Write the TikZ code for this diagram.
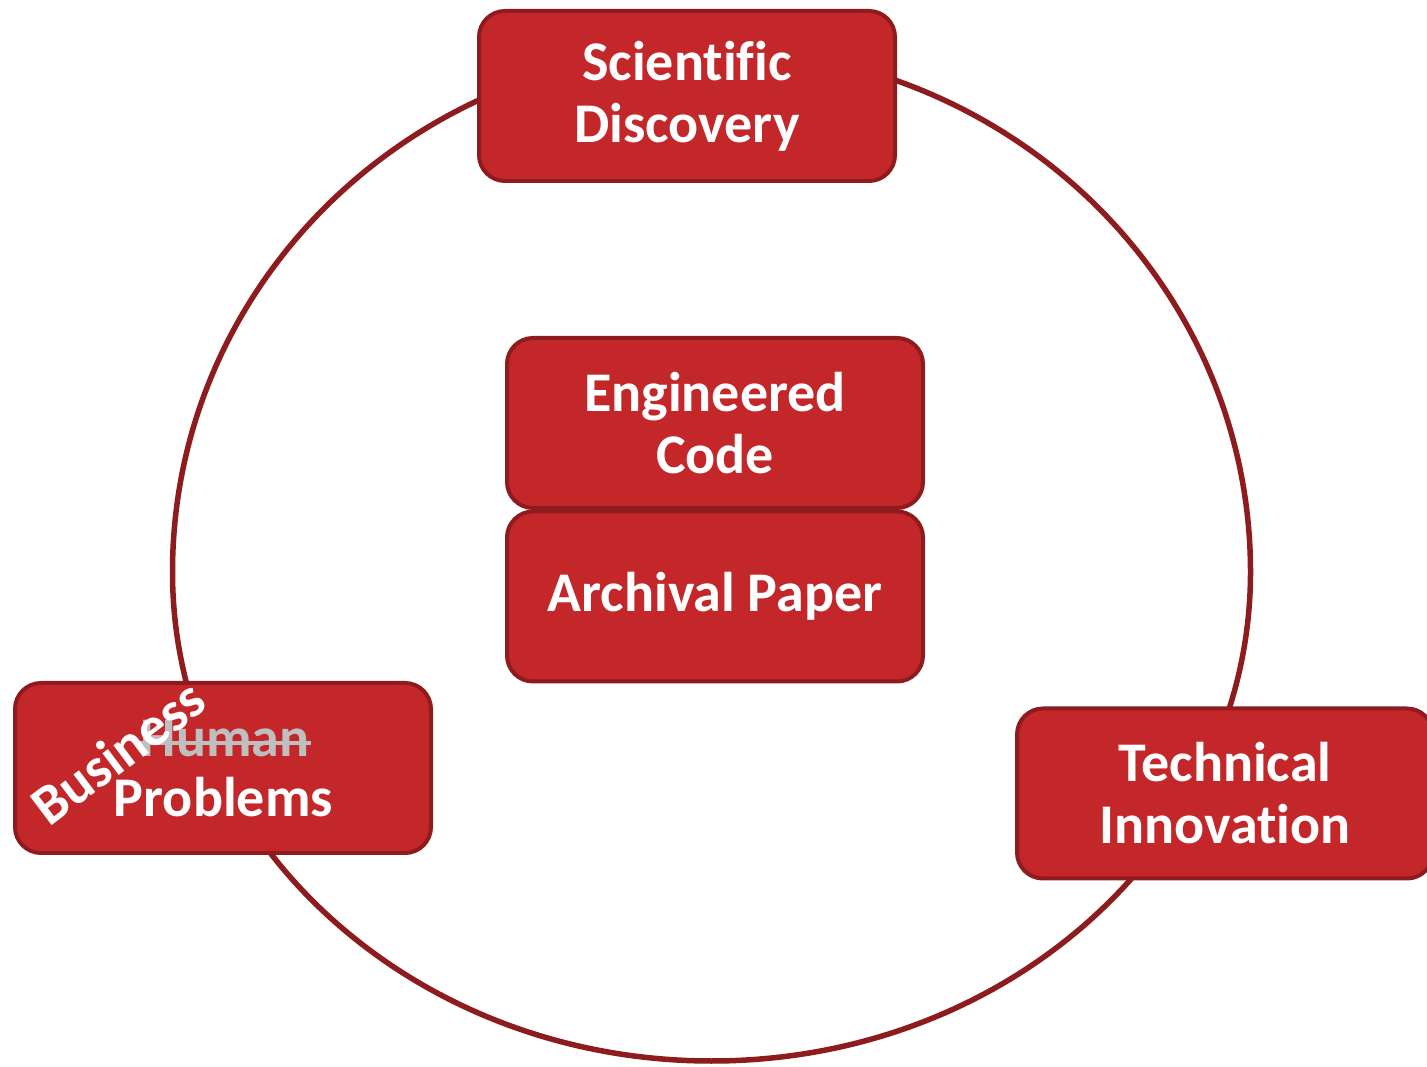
\documentclass[tikz,border=0pt]{standalone}
\usepackage{fontspec}
\setmainfont{Carlito}[Ligatures=NoCommon]
\definecolor{boxred}{HTML}{C4272A}
\definecolor{darkred}{HTML}{8E1B1D}
\definecolor{strikegray}{HTML}{BFBFBF}
\tikzset{
  box/.style={draw=darkred, fill=boxred, line width=4pt, rounded corners=26pt,
    minimum width=416pt, minimum height=170pt, inner sep=0pt,
    text=white, align=center, font=\bfseries\fontsize{56}{62}\selectfont},
  word/.style={text=white, inner sep=1pt, font=\bfseries\fontsize{56}{62}\selectfont},
  loop/.style={draw=darkred, line width=5.5pt}
}
\begin{document}
\begin{tikzpicture}[x=1pt,y=1pt]
    \useasboundingbox (0,0) rectangle (1427,1066);
    \draw[loop] (172.5,494) arc[start angle=180, end angle=0, x radius=539, y radius=523]
      arc[start angle=0, end angle=-180, x radius=539, y radius=489];
    \node[box] (sci) at (687,970) {Scientific\\Discovery};
    \node[box] (code) at (715,643) {Engineered\\Code};
    \node[box] (paper) at (715,469.5) {Archival Paper};
    \node[box] (tech) at (1225,272.5) {Technical\\Innovation};
    \node[box] (prob) at (223,298) {};
    \node[word, text=strikegray, anchor=base] (human) at (225,309) {Human};
    \draw[strikegray, line width=4pt] ([yshift=-4pt]human.west) -- ([yshift=-4pt]human.east);
    \node[word, anchor=base] (problems) at (223.5,249) {Problems};
    \node[word, rotate=37] (business) at (118,314) {Business};
  \end{tikzpicture}
\end{document}
